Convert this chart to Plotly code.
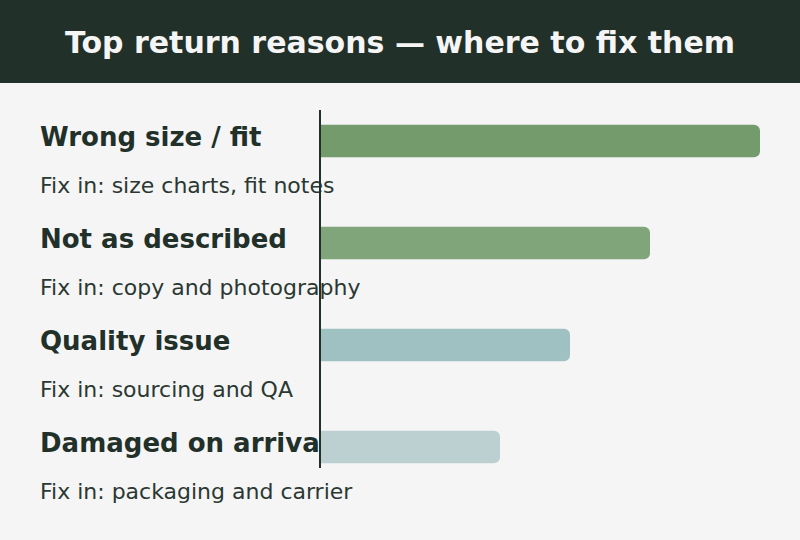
import plotly.graph_objects as go

# ---- data ----
reasons = ["Wrong size / fit", "Not as described", "Quality issue", "Damaged on arrival"]
fixes = [
    "Fix in: size charts, fit notes",
    "Fix in: copy and photography",
    "Fix in: sourcing and QA",
    "Fix in: packaging and carrier",
]
shares = [44, 33, 25, 18]
bar_colors = ["#739b6b", "#80a57b", "#a0c1c1", "#bccfd1"]
chart_title = "Top return reasons — where to fix them"

# ---- style ----
BG = "#f5f5f5"
INK = "#22302a"
SUB = "#2b3832"
HEADER = "#213028"
FONT = "DejaVu Sans"

W, H = 800, 540
M_L, M_R, M_T, M_B = 40, 40, 110, 30
plot_h = H - M_T - M_B
plot_w = W - M_L - M_R
zero_px = 280  # px from plot left where bars start
px_per_unit = 102.0

pos = list(range(len(reasons)))
y_top = -0.304
y_bottom = y_top + plot_h / px_per_unit
line_bottom = len(reasons) - 1 + 0.206

fig = go.Figure()
fig.add_trace(go.Bar(
    x=shares, y=pos, orientation="h", width=0.32,
    marker=dict(color=bar_colors, line=dict(width=0)),
    hoverinfo="skip", showlegend=False,
))
fig.add_trace(go.Scatter(x=[None], y=[None], yaxis="y2", mode="markers",
                         showlegend=False, hoverinfo="skip"))

xmax = max(shares)
xmin = -xmax * zero_px / (plot_w - zero_px)

axis_common = dict(
    range=[y_bottom, y_top], tickmode="array", ticks="", showgrid=False,
    zeroline=False, showline=False, ticklabelposition="inside",
    layer="below traces", ticklabeloverflow="allow", fixedrange=True,
    ticklabelstandoff=-3,
)

fig.update_layout(
    width=W, height=H,
    margin=dict(l=M_L, r=M_R, t=M_T, b=M_B),
    paper_bgcolor=BG, plot_bgcolor=BG,
    barcornerradius=6,
    showlegend=False,
    xaxis=dict(range=[xmin, xmax], visible=False, fixedrange=True),
    yaxis=dict(
        **axis_common,
        tickvals=[p - 0.043 for p in pos],
        ticktext=reasons,
        tickfont=dict(family=FONT, size=26, color=INK, weight="bold"),
    ),
    yaxis2=dict(
        **axis_common,
        overlaying="y", anchor="x", side="left",
        tickvals=[p + 0.435 for p in pos],
        ticktext=fixes,
        tickfont=dict(family=FONT, size=22, color=SUB),
    ),
    title=dict(
        text=chart_title, x=0.5, xanchor="center", xref="paper",
        y=1 - 42 / H, yref="container", yanchor="middle",
        font=dict(family=FONT, size=30, color="#f5f5f5", weight="bold"),
    ),
    shapes=[
        dict(type="rect", xref="paper", yref="paper",
             x0=-0.2, x1=1.2, y0=1 + (M_T - 83) / plot_h, y1=1.6,
             fillcolor=HEADER, line=dict(width=0), layer="below"),
        dict(type="line", xref="x", yref="y", x0=0, x1=0,
             y0=y_top, y1=line_bottom,
             line=dict(color=INK, width=2), layer="above"),
    ],
)

fig.write_html("out.html")
